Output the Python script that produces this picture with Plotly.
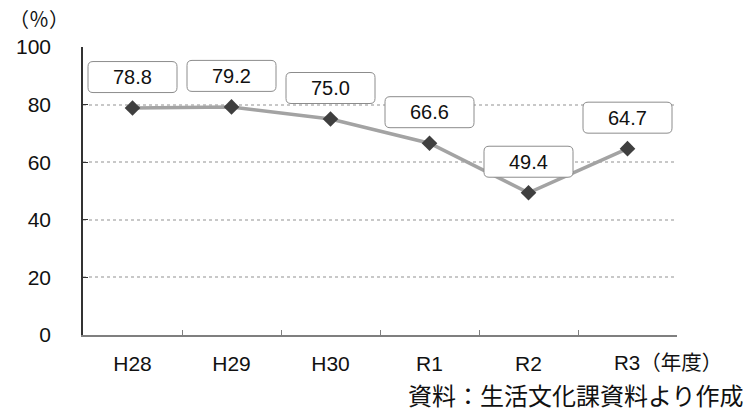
import plotly.graph_objects as go

# Fiscal years and rates (%)
years = ["H28", "H29", "H30", "R1", "R2", "R3"]
rates = [78.8, 79.2, 75.0, 66.6, 49.4, 64.7]
y_ticks = [0, 20, 40, 60, 80, 100]
year_unit = "（年度）"
source_note = "資料：生活文化課資料より作成"

FONT = "Liberation Sans, Arial, Noto Sans CJK JP, sans-serif"
JP_FONT = "Noto Sans CJK JP, sans-serif"
TXT = "#111111"

fig = go.Figure()
fig.add_trace(go.Scatter(
    x=years, y=rates, mode="lines+markers",
    line=dict(color="#a3a3a3", width=3.5),
    marker=dict(symbol="diamond", size=12, color="#3f3f3f"),
    hoverinfo="skip", showlegend=False,
))


def rounded_box(w, h, dy, r):
    """Rounded rectangle path in pixels, centred dy px above its anchor."""
    x0, x1 = -w / 2, w / 2
    y0, y1 = dy - h / 2, dy + h / 2
    return (
        f"M{x0 + r},{y0} L{x1 - r},{y0} Q{x1},{y0} {x1},{y0 + r} "
        f"L{x1},{y1 - r} Q{x1},{y1} {x1 - r},{y1} "
        f"L{x0 + r},{y1} Q{x0},{y1} {x0},{y1 - r} "
        f"L{x0},{y0 + r} Q{x0},{y0} {x0 + r},{y0} Z"
    )


LABEL_SHIFT = 31
for yr, v in zip(years, rates):
    fig.add_shape(
        type="path", xref="x", yref="y",
        xsizemode="pixel", ysizemode="pixel",
        xanchor=yr, yanchor=v,
        path=rounded_box(89, 31, LABEL_SHIFT, 5),
        line=dict(color="#8c8c8c", width=1),
        fillcolor="white", layer="above",
    )
    fig.add_annotation(
        x=yr, y=v, yshift=LABEL_SHIFT, text=f"{v:.1f}", showarrow=False,
        font=dict(family=FONT, size=20, color=TXT),
    )

# last category label carries the unit, so it is drawn as one text
tick_text = years[:-1] + [""]
fig.add_annotation(
    x=years[-1], y=0, yref="y", xanchor="left", yanchor="middle",
    xshift=-16, yshift=-27, showarrow=False,
    text=f"{years[-1]}{year_unit}",
    font=dict(family=FONT, size=20.5, color=TXT),
)

fig.add_annotation(
    xref="paper", yref="paper", x=-0.128, y=1.10, xanchor="left", yanchor="middle",
    text="（％）", showarrow=False, font=dict(family=JP_FONT, size=20, color=TXT),
)
fig.add_annotation(
    xref="paper", yref="paper", x=1.116, y=-0.205, xanchor="right", yanchor="middle",
    text=source_note, showarrow=False,
    font=dict(family=JP_FONT, size=24, color=TXT),
)

fig.update_xaxes(
    type="category", tickvals=years, ticktext=tick_text, automargin=False,
    showline=True, linecolor="#7f7f7f", linewidth=1.5,
    ticks="inside", tickson="boundaries", ticklen=5, tickcolor="#7f7f7f",
    showgrid=False, tickfont=dict(family=FONT, size=21, color=TXT),
    ticklabelstandoff=9, range=[-0.5, 5.5], fixedrange=True,
)
fig.update_yaxes(
    range=[0, 100], tickvals=y_ticks, automargin=False,
    showline=True, linecolor="#333333", linewidth=1.5,
    ticks="inside", ticklen=5, tickcolor="#333333",
    showgrid=True, gridcolor="#c8c8c8", griddash="dot", gridwidth=1.5,
    zeroline=False, tickfont=dict(family=FONT, size=21, color=TXT),
    ticklabelstandoff=26, fixedrange=True,
)
fig.update_layout(
    width=746, height=412, margin=dict(l=83, r=69, t=47, b=77),
    paper_bgcolor="white", plot_bgcolor="white",
)
fig.write_html("out.html")
